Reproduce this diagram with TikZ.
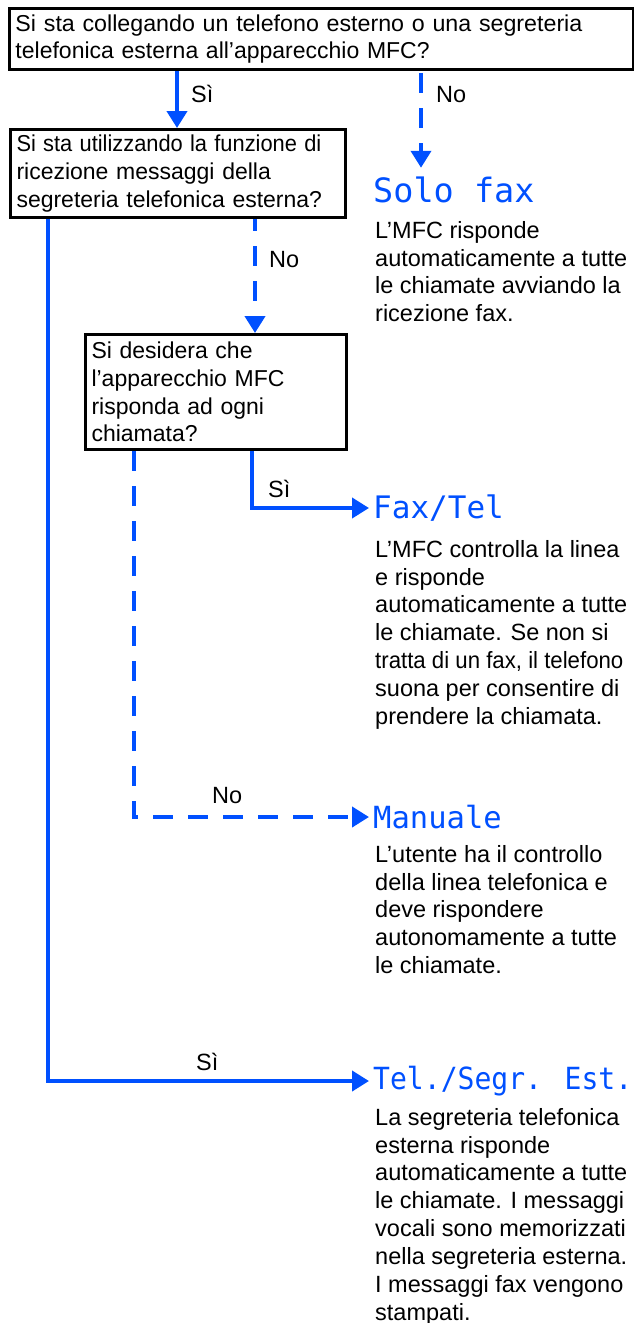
\documentclass[tikz,border=0pt]{standalone}
\usepackage{fontspec}
\usepackage{graphicx}
\setmainfont{Liberation Sans}
\newfontfamily\lcdfont{DejaVu Sans Mono}
\usetikzlibrary{arrows.meta}
\definecolor{flowblue}{RGB}{0,80,255}
\newcommand{\hsqz}[2]{\scalebox{#1}[1]{#2}}
\tikzset{
  qbox/.style={draw=black, line width=3pt, anchor=north west, inner xsep=6pt, inner ysep=0pt,
    align=left, font=\fontsize{23}{27.8}\selectfont},
  desc/.style={anchor=north west, inner sep=0pt, align=left, font=\fontsize{23.5}{27.85}\selectfont},
  lbl/.style={anchor=base west, inner sep=0pt, font=\fontsize{23.5}{27.8}\selectfont},
  mode/.style={anchor=west, inner sep=0pt, text=flowblue, font=\fontsize{30.5}{30.5}\lcdfont},
  solidarrow/.style={draw=flowblue, line width=4pt, -{Triangle[length=17pt,width=20pt]}},
  dasharrow/.style={draw=flowblue, line width=4pt, dash pattern=on 20pt off 15pt, -{Triangle[length=17pt,width=20pt]}},
}
\begin{document}
\begin{tikzpicture}[x=1pt, y=-1pt]
\useasboundingbox (0,0) rectangle (634,1323);
% question boxes
\node[qbox, minimum width=624pt, minimum height=61pt, text width=612pt] (b1) at (8,7)
  {\hsqz{1.01}{Si sta collegando un telefono esterno o una segreteria}\\telefonica esterna all'apparecchio MFC?};
\node[qbox, minimum width=335pt, minimum height=88pt, text width=323pt] (b2) at (9,128)
  {\hsqz{0.95}{Si sta utilizzando la funzione di}\\ricezione messaggi della\\segreteria telefonica esterna?};
\node[qbox, minimum width=261pt, minimum height=115pt, text width=249pt] (b3) at (84,333)
  {Si desidera che\\l'apparecchio MFC\\risponda ad ogni\\chiamata?};
% modes
\node[mode, font=\fontsize{33.5}{33.5}\lcdfont] (sf) at (373,190) {Solo fax};
\node[mode, font=\fontsize{31}{31}\lcdfont] (ft) at (373,508) {Fax/Tel};
\node[mode] (mn) at (373,817) {Manuale};
\node[mode] (te) at (373,1081) {\scalebox{0.92}[1]{Tel./Segr. Est.}};
% descriptions
\node[desc] (d1) at (375,221) {L'MFC risponde\\automaticamente a tutte\\le chiamate avviando la\\ricezione fax.};
\node[desc] (d2) at (375,540) {L'MFC controlla la linea\\e risponde\\automaticamente a tutte\\le chiamate. Se non si\\\hsqz{0.945}{tratta di un fax, il telefono}\\suona per consentire di\\prendere la chiamata.};
\node[desc] (d3) at (375,845) {L'utente ha il controllo\\della linea telefonica e\\deve rispondere\\autonomamente a tutte\\le chiamate.};
\node[desc] (d4) at (375,1108) {La segreteria telefonica\\esterna risponde\\automaticamente a tutte\\le chiamate. I messaggi\\vocali sono memorizzati\\nella segreteria esterna.\\I messaggi fax vengono\\stampati.};
% labels
\node[lbl] (l1) at (191,102) {Sì};
\node[lbl] (l2) at (436,102) {No};
\node[lbl] (l3) at (269,267) {No};
\node[lbl] (l4) at (268,497) {Sì};
\node[lbl] (l5) at (212,803) {No};
\node[lbl] (l6) at (196,1070) {Sì};
% connectors
\coordinate (c1) at (48,1081);
\coordinate (c2) at (252,508);
\coordinate (c3) at (134,817);
\draw[solidarrow] (b1.south -| 177,0) -- (b2.north -| 177,0);
\draw[dasharrow, dash phase=-2pt] (b1.south -| 421,0) -- ([yshift=9pt]sf.north -| 421,0);
\draw[dasharrow, dash phase=8pt] (b2.south -| 255,0) -- (b3.north -| 255,0);
\draw[solidarrow] (b2.south -| c1) -- (c1) -- ([xshift=-4pt]te.west);
\draw[solidarrow] (b3.south -| c2) -- (c2) -- ([xshift=-4pt]ft.west);
\draw[dasharrow] (b3.south -| c3) -- (c3) -- ([xshift=-4pt]mn.west);
\end{tikzpicture}
\end{document}
